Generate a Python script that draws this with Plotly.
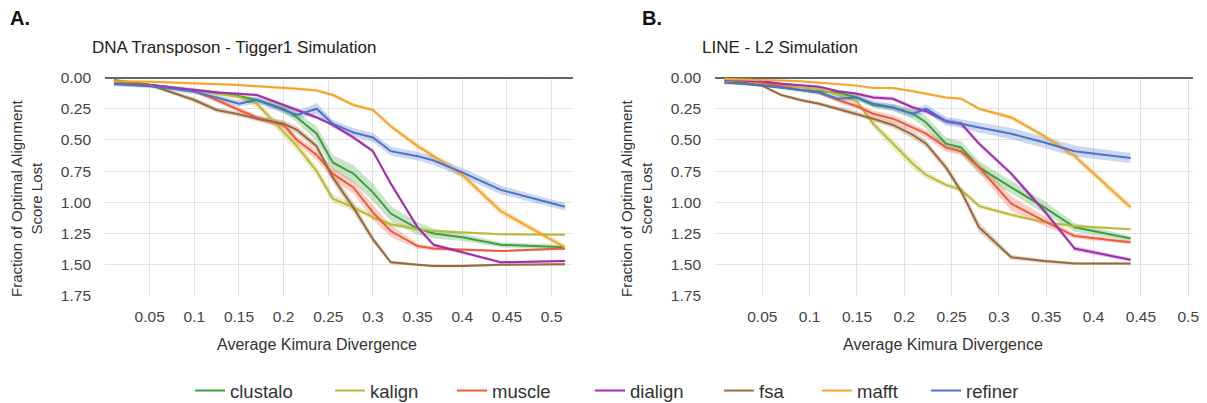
import plotly.graph_objects as go

# ---------------- data ----------------
methods = ["clustalo", "kalign", "muscle", "dialign", "fsa", "mafft", "refiner"]
colors = {"clustalo": "#3f9f3f", "kalign": "#b9b93c", "muscle": "#ee5a3c",
          "dialign": "#a22bb0", "fsa": "#9a6a3c", "mafft": "#f5a52a", "refiner": "#4a74c8"}

# Panel A: DNA Transposon - Tigger1
x_a = [0.01, 0.03, 0.05, 0.075, 0.1, 0.125, 0.15, 0.17, 0.2, 0.215,
       0.237, 0.255, 0.278, 0.3, 0.32, 0.35, 0.368, 0.4, 0.443, 0.515]
a_clustalo = [0.05, 0.055, 0.06, 0.08, 0.10, 0.12, 0.15, 0.18, 0.25, 0.32,
              0.45, 0.68, 0.77, 0.92, 1.09, 1.21, 1.25, 1.28, 1.34, 1.36]
a_kalign = [0.03, 0.04, 0.06, 0.08, 0.10, 0.13, 0.155, 0.21, 0.44, 0.55,
            0.75, 0.97, 1.04, 1.12, 1.175, 1.215, 1.23, 1.24, 1.255, 1.26]
a_muscle = [0.03, 0.04, 0.06, 0.08, 0.107, 0.18, 0.26, 0.32, 0.38, 0.50,
            0.62, 0.77, 0.88, 1.08, 1.23, 1.35, 1.37, 1.38, 1.39, 1.37]
a_dialign = [0.03, 0.04, 0.06, 0.08, 0.095, 0.12, 0.13, 0.14, 0.22, 0.26,
             0.32, 0.38, 0.48, 0.59, 0.85, 1.20, 1.34, 1.40, 1.48, 1.47]
a_fsa = [0.02, 0.04, 0.06, 0.12, 0.18, 0.26, 0.295, 0.33, 0.37, 0.42,
         0.55, 0.80, 1.04, 1.295, 1.48, 1.50, 1.51, 1.51, 1.50, 1.495]
a_mafft = [0.03, 0.03, 0.035, 0.04, 0.045, 0.055, 0.06, 0.07, 0.08, 0.09,
           0.105, 0.14, 0.22, 0.26, 0.39, 0.55, 0.63, 0.78, 1.07, 1.36]
a_refiner = [0.055, 0.06, 0.07, 0.09, 0.115, 0.16, 0.21, 0.18, 0.26, 0.30,
             0.25, 0.37, 0.44, 0.48, 0.59, 0.63, 0.665, 0.76, 0.90, 1.035]

# half-widths of shaded intervals, panel A
a_clustalo_err = [0.01, 0.01, 0.01, 0.01, 0.01, 0.015, 0.015, 0.02, 0.03, 0.04,
                  0.06, 0.06, 0.07, 0.07, 0.06, 0.05, 0.04, 0.03, 0.02, 0.02]
a_kalign_err = [0.01, 0.01, 0.01, 0.01, 0.01, 0.015, 0.02, 0.03, 0.04, 0.04,
                0.04, 0.035, 0.03, 0.02, 0.02, 0.015, 0.01, 0.01, 0.01, 0.01]
a_muscle_err = [0.01, 0.01, 0.01, 0.01, 0.015, 0.02, 0.02, 0.02, 0.03, 0.03,
                0.04, 0.05, 0.05, 0.06, 0.05, 0.02, 0.015, 0.01, 0.01, 0.01]
a_dialign_err = [0.01, 0.01, 0.01, 0.01, 0.01, 0.01, 0.01, 0.012, 0.015, 0.015,
                 0.015, 0.015, 0.015, 0.015, 0.015, 0.015, 0.015, 0.012, 0.01, 0.01]
a_fsa_err = [0.01, 0.01, 0.01, 0.015, 0.02, 0.02, 0.02, 0.02, 0.03, 0.03,
             0.03, 0.04, 0.04, 0.03, 0.015, 0.01, 0.01, 0.01, 0.01, 0.01]
a_mafft_err = [0.01, 0.01, 0.01, 0.01, 0.01, 0.01, 0.01, 0.01, 0.012, 0.012,
               0.012, 0.015, 0.015, 0.015, 0.02, 0.025, 0.025, 0.03, 0.03, 0.02]
a_refiner_err = [0.015, 0.015, 0.015, 0.02, 0.02, 0.02, 0.025, 0.025, 0.025, 0.03,
                 0.045, 0.03, 0.035, 0.035, 0.035, 0.035, 0.035, 0.035, 0.035, 0.03]

# Panel B: LINE - L2
x_b = [0.01, 0.03, 0.05, 0.07, 0.09, 0.11, 0.13, 0.15, 0.167, 0.188,
       0.209, 0.223, 0.244, 0.26, 0.279, 0.313, 0.348, 0.38, 0.439]
b_clustalo = [0.04, 0.05, 0.067, 0.08, 0.10, 0.107, 0.12, 0.16, 0.22, 0.24,
              0.29, 0.36, 0.53, 0.56, 0.72, 0.88, 1.04, 1.20, 1.29]
b_kalign = [0.02, 0.03, 0.04, 0.06, 0.08, 0.09, 0.14, 0.19, 0.37, 0.53,
            0.69, 0.78, 0.86, 0.90, 1.03, 1.10, 1.16, 1.19, 1.215]
b_muscle = [0.013, 0.025, 0.04, 0.07, 0.10, 0.12, 0.18, 0.23, 0.29, 0.33,
            0.40, 0.45, 0.56, 0.59, 0.72, 1.01, 1.15, 1.27, 1.32]
b_dialign = [0.02, 0.025, 0.03, 0.05, 0.065, 0.075, 0.11, 0.13, 0.16, 0.17,
             0.24, 0.27, 0.35, 0.37, 0.53, 0.77, 1.07, 1.37, 1.46]
b_fsa = [0.013, 0.04, 0.067, 0.14, 0.18, 0.21, 0.25, 0.29, 0.33, 0.38,
         0.46, 0.53, 0.72, 0.91, 1.20, 1.44, 1.47, 1.49, 1.49]
b_mafft = [0.013, 0.015, 0.02, 0.025, 0.03, 0.04, 0.05, 0.065, 0.085, 0.085,
           0.11, 0.13, 0.16, 0.17, 0.25, 0.32, 0.47, 0.63, 1.04]
b_refiner = [0.04, 0.05, 0.06, 0.08, 0.10, 0.12, 0.17, 0.16, 0.21, 0.24,
             0.29, 0.25, 0.35, 0.37, 0.40, 0.45, 0.52, 0.59, 0.645]

b_clustalo_err = [0.01, 0.01, 0.01, 0.01, 0.01, 0.01, 0.015, 0.02, 0.02, 0.03,
                  0.04, 0.05, 0.05, 0.05, 0.05, 0.05, 0.05, 0.035, 0.02]
b_kalign_err = [0.01, 0.01, 0.01, 0.01, 0.01, 0.01, 0.015, 0.02, 0.03, 0.04,
                0.04, 0.03, 0.02, 0.02, 0.02, 0.015, 0.01, 0.01, 0.01]
b_muscle_err = [0.01, 0.01, 0.01, 0.01, 0.01, 0.015, 0.02, 0.02, 0.025, 0.03,
                0.03, 0.03, 0.035, 0.03, 0.04, 0.06, 0.04, 0.02, 0.015]
b_dialign_err = [0.01, 0.01, 0.01, 0.01, 0.01, 0.01, 0.01, 0.012, 0.015, 0.015,
                 0.015, 0.015, 0.02, 0.02, 0.02, 0.02, 0.02, 0.02, 0.015]
b_fsa_err = [0.01, 0.01, 0.01, 0.01, 0.015, 0.015, 0.02, 0.02, 0.02, 0.025,
             0.03, 0.03, 0.03, 0.035, 0.04, 0.02, 0.015, 0.01, 0.01]
b_mafft_err = [0.01, 0.01, 0.01, 0.01, 0.01, 0.01, 0.01, 0.01, 0.01, 0.01,
               0.012, 0.012, 0.012, 0.012, 0.015, 0.02, 0.02, 0.025, 0.03]
b_refiner_err = [0.015, 0.015, 0.015, 0.015, 0.02, 0.02, 0.02, 0.025, 0.025, 0.025,
                 0.03, 0.035, 0.035, 0.035, 0.04, 0.045, 0.045, 0.045, 0.04]

x_ticks = [0.05, 0.1, 0.15, 0.2, 0.25, 0.3, 0.35, 0.4, 0.45, 0.5]
x_tick_labels = ["0.05", "0.1", "0.15", "0.2", "0.25", "0.3", "0.35", "0.4", "0.45", "0.5"]
y_ticks = [0.0, 0.25, 0.5, 0.75, 1.0, 1.25, 1.5, 1.75]

panel_a = {"clustalo": (a_clustalo, a_clustalo_err), "kalign": (a_kalign, a_kalign_err),
           "muscle": (a_muscle, a_muscle_err), "dialign": (a_dialign, a_dialign_err),
           "fsa": (a_fsa, a_fsa_err), "mafft": (a_mafft, a_mafft_err),
           "refiner": (a_refiner, a_refiner_err)}
panel_b = {"clustalo": (b_clustalo, b_clustalo_err), "kalign": (b_kalign, b_kalign_err),
           "muscle": (b_muscle, b_muscle_err), "dialign": (b_dialign, b_dialign_err),
           "fsa": (b_fsa, b_fsa_err), "mafft": (b_mafft, b_mafft_err),
           "refiner": (b_refiner, b_refiner_err)}

# ---------------- figure ----------------
# the page body has an 8px margin, so the figure is drawn 8px smaller and
# positions (measured in window pixels) are shifted accordingly
OFF = 8
W, H = 1207 - OFF, 403 - OFF
FONT = "Liberation Sans, Arial, sans-serif"


def px_x(px):
    return (px - OFF) / W


def px_y(py):
    return 1 - (py - OFF) / H


def rgba(hexc, a):
    h = hexc.lstrip("#")
    r, g, b = int(h[0:2], 16), int(h[2:4], 16), int(h[4:6], 16)
    return f"rgba({r},{g},{b},{a})"


fig = go.Figure()

for xs, panel, xa, ya in [(x_a, panel_a, "x", "y"), (x_b, panel_b, "x2", "y2")]:
    # shaded intervals first
    for m in methods:
        vals, err = panel[m]
        upper = [v + e for v, e in zip(vals, err)]
        lower = [v - e for v, e in zip(vals, err)]
        fig.add_trace(go.Scatter(
            x=list(xs) + list(xs)[::-1], y=upper + lower[::-1],
            fill="toself", fillcolor=rgba(colors[m], 0.28),
            line=dict(width=0), mode="lines", hoverinfo="skip",
            showlegend=False, xaxis=xa, yaxis=ya))
    for i, m in enumerate(methods):
        vals, _ = panel[m]
        fig.add_trace(go.Scatter(
            x=xs, y=vals, mode="lines", name=m,
            line=dict(color=colors[m], width=2),
            showlegend=(xa == "x"),
            legend=("legend" if i == 0 else f"legend{i+1}"),
            xaxis=xa, yaxis=ya))

ytop, ybot = px_y(77.5), px_y(296)
axis_common = dict(showline=False, ticks="", gridcolor="#e3e3e3", gridwidth=1,
                   tickfont=dict(family=FONT, size=15.5, color="#444"))
fig.update_layout(
    width=W, height=H, margin=dict(l=0, r=0, t=0, b=0, autoexpand=False),
    paper_bgcolor="white", plot_bgcolor="white",
    xaxis=dict(domain=[px_x(105), px_x(573)], range=[0, 0.524], tickvals=x_ticks,
               ticktext=x_tick_labels, anchor="y", zeroline=False,
               ticklabelstandoff=9, **axis_common),
    yaxis=dict(domain=[ybot, ytop], range=[1.75, 0], tickvals=y_ticks, tickformat=".2f",
               anchor="x", zeroline=True, zerolinecolor="#666", zerolinewidth=1.5,
               ticklabelstandoff=13, **axis_common),
    xaxis2=dict(domain=[px_x(715), px_x(1193)], range=[0, 0.505], tickvals=x_ticks,
                ticktext=x_tick_labels, anchor="y2", zeroline=False,
                ticklabelstandoff=9, **axis_common),
    yaxis2=dict(domain=[ybot, ytop], range=[1.75, 0], tickvals=y_ticks, tickformat=".2f",
                anchor="x2", zeroline=True, zerolinecolor="#666", zerolinewidth=1.5,
                ticklabelstandoff=13, **axis_common),
)

# legends: one per method, placed along the bottom (x = where each label text starts)
legend_text_x = [230, 370, 492, 630, 759, 857, 966]
for i, px in enumerate(legend_text_x):
    key = "legend" if i == 0 else f"legend{i+1}"
    fig.update_layout({key: dict(orientation="h", x=px_x(px - 40), xanchor="left",
                                 y=px_y(372), yanchor="top", bgcolor="rgba(0,0,0,0)",
                                 font=dict(family=FONT, size=18.5, color="#333"))})

ann = []
ann.append(dict(text="<b>A.</b>", x=px_x(8), y=px_y(18), xanchor="left", yanchor="middle",
                font=dict(family=FONT, size=20, color="#111")))
ann.append(dict(text="<b>B.</b>", x=px_x(640), y=px_y(18), xanchor="left", yanchor="middle",
                font=dict(family=FONT, size=20, color="#111")))
ann.append(dict(text="DNA Transposon - Tigger1 Simulation", x=px_x(90), y=px_y(48),
                xanchor="left", yanchor="middle", font=dict(family=FONT, size=17, color="#222")))
ann.append(dict(text="LINE - L2 Simulation", x=px_x(700), y=px_y(48),
                xanchor="left", yanchor="middle", font=dict(family=FONT, size=17, color="#222")))
for cx in (26, 636):
    ann.append(dict(text="Fraction of Optimal Alignment<br>Score Lost", textangle=-90,
                    x=px_x(cx), y=px_y(198), xanchor="center", yanchor="middle",
                    font=dict(family=FONT, size=15, color="#333")))
for cx in (317, 943):
    ann.append(dict(text="Average Kimura Divergence", x=px_x(cx), y=px_y(344),
                    xanchor="center", yanchor="middle",
                    font=dict(family=FONT, size=16, color="#333")))
for a in ann:
    a.update(xref="paper", yref="paper", showarrow=False)
fig.update_layout(annotations=ann)

fig.write_html("out.html")
